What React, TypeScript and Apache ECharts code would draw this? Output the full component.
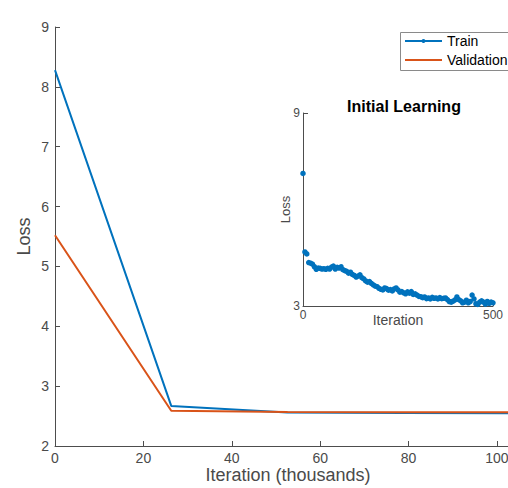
import React, { useEffect, useRef } from "react";
import * as echarts from "echarts";

const epochX = [0, 26.3, 52.6, 78.9, 105.2];
const trainLoss = [8.28, 2.67, 2.56, 2.55, 2.545];
const valLoss = [5.52, 2.59, 2.57, 2.565, 2.563];

const seriesNames = ["Train", "Validation"];

const insetIter = [
  0, 5, 10, 15, 20, 25, 30, 35, 40, 45, 50, 55, 60, 65, 70, 75, 80, 85, 90, 95,
  100, 105, 110, 115, 120, 125, 130, 135, 140, 145, 150, 155, 160, 165, 170, 175, 180, 185, 190, 195,
  200, 205, 210, 215, 220, 225, 230, 235, 240, 245, 250, 255, 260, 265, 270, 275, 280, 285, 290, 295,
  300, 305, 310, 315, 320, 325, 330, 335, 340, 345, 350, 355, 360, 365, 370, 375, 380, 385, 390, 395,
  400, 405, 410, 415, 420, 425, 430, 435, 440, 445, 450, 455, 460, 465, 470, 475, 480, 485, 490, 495, 500,
];
const insetLoss = [
  7.12, 4.68, 4.62, 4.35, 4.33, 4.3, 4.22, 4.14, 4.18, 4.17, 4.15, 4.16, 4.14, 4.17, 4.15, 4.21, 4.24, 4.15, 4.2, 4.18,
  4.22, 4.13, 4.1, 4.08, 4.02, 4.05, 3.98, 3.95, 3.9, 3.93, 3.97, 3.88, 3.84, 3.78, 3.74, 3.76, 3.7, 3.66, 3.62, 3.6,
  3.55, 3.52, 3.5, 3.56, 3.54, 3.49, 3.51, 3.47, 3.53, 3.56, 3.5, 3.43, 3.45, 3.41, 3.38, 3.44, 3.4, 3.45, 3.36, 3.38,
  3.34, 3.3, 3.29, 3.26, 3.28, 3.23, 3.25, 3.22, 3.27, 3.24, 3.25, 3.22, 3.26, 3.23, 3.24, 3.25, 3.2, 3.14, 3.12, 3.15,
  3.19, 3.28, 3.2, 3.16, 3.1, 3.12, 3.18, 3.1, 3.14, 3.34, 3.22, 3.07, 3.05, 3.12, 3.16, 3.12, 3.06, 3.14, 3.08, 3.12, 3.1,
];

const BLUE = "#0072BD";
const ORANGE = "#D95319";
const AXIS = "#4d4d4d";
const TEXT = "#4a4a4a";
const FONT = "'Liberation Sans', Arial, Helvetica, sans-serif";

export default function App() {
  const ref = useRef<HTMLDivElement>(null);
  useEffect(() => {
    if (!ref.current) return;
    const chart = echarts.init(ref.current, null, { renderer: "svg" });
    const axisCommon = {
      axisLine: { show: true, lineStyle: { color: AXIS, width: 1 } },
      axisTick: { show: true, inside: true, length: 5, lineStyle: { color: AXIS } },
      splitLine: { show: false },
      nameMoveOverlap: false,
    };
    const legendColors = [BLUE, ORANGE];
    const legendGraphics: any[] = [
      {
        type: "rect",
        shape: { x: 400.5, y: 32.5, width: 120, height: 38 },
        style: { fill: "#fff", stroke: "#8a8a8a", lineWidth: 1 },
        z: 100,
      },
    ];
    seriesNames.forEach((name, i) => {
      const y = 41 + i * 19;
      legendGraphics.push({
        type: "line",
        shape: { x1: 405, y1: y, x2: 442, y2: y },
        style: { stroke: legendColors[i], lineWidth: 2 },
        z: 101,
      });
      if (i === 0) {
        legendGraphics.push({
          type: "circle",
          shape: { cx: 423.5, cy: y, r: 2 },
          style: { fill: BLUE },
          z: 102,
        });
      }
      legendGraphics.push({
        type: "text",
        x: 447,
        y,
        style: {
          text: name,
          fontSize: 14,
          fontFamily: FONT,
          fill: "#000",
          verticalAlign: "middle",
        },
        z: 101,
      });
    });
    chart.setOption({
      animation: false,
      backgroundColor: "#ffffff",
      textStyle: { fontFamily: FONT },
      title: {
        text: "Initial Learning",
        left: 399,
        top: 93,
        textAlign: "center",
        textStyle: { fontSize: 16, fontWeight: "bold", color: "#000", fontFamily: FONT },
      },
      graphic: legendGraphics,
      grid: [
        { left: 55, top: 27, right: 0, height: 419, containLabel: false, outerBoundsMode: "none" },
        { left: 303, top: 113, width: 190, height: 193, containLabel: false, outerBoundsMode: "none" },
      ],
      xAxis: [
        {
          ...axisCommon,
          gridIndex: 0,
          type: "value",
          min: 0,
          max: 102.5,
          interval: 20,
          name: "Iteration (thousands)",
          nameLocation: "middle",
          nameGap: 20,
          nameTextStyle: { color: TEXT, fontSize: 18, fontFamily: FONT, padding: [0, 0, 0, 13] },
          axisLabel: { color: TEXT, fontSize: 14, fontFamily: FONT, margin: 5, showMaxLabel: false },
        },
        {
          ...axisCommon,
          gridIndex: 1,
          type: "value",
          min: 0,
          max: 500,
          interval: 500,
          name: "Iteration",
          nameLocation: "middle",
          nameGap: 7,
          nameTextStyle: { color: TEXT, fontSize: 14, fontFamily: FONT },
          axisLabel: { color: TEXT, fontSize: 12, fontFamily: FONT, margin: 3 },
        },
      ],
      yAxis: [
        {
          ...axisCommon,
          gridIndex: 0,
          type: "value",
          min: 2,
          max: 9,
          interval: 1,
          name: "Loss",
          nameLocation: "middle",
          nameGap: 22,
          nameTextStyle: { color: TEXT, fontSize: 18, fontFamily: FONT },
          axisLabel: { color: TEXT, fontSize: 14, fontFamily: FONT, margin: 6 },
        },
        {
          ...axisCommon,
          gridIndex: 1,
          type: "value",
          min: 3,
          max: 9,
          interval: 6,
          name: "Loss",
          nameLocation: "middle",
          nameGap: 11,
          nameTextStyle: { color: TEXT, fontSize: 13, fontFamily: FONT },
          axisLabel: { color: TEXT, fontSize: 12, fontFamily: FONT, margin: 3 },
        },
      ],
      series: [
        {
          name: seriesNames[0],
          type: "line",
          xAxisIndex: 0,
          yAxisIndex: 0,
          data: epochX.map((x, i) => [x, trainLoss[i]]),
          showSymbol: false,
          symbol: "none",
          lineStyle: { color: BLUE, width: 2 },
          itemStyle: { color: BLUE },
        },
        {
          name: seriesNames[1],
          type: "line",
          xAxisIndex: 0,
          yAxisIndex: 0,
          data: epochX.map((x, i) => [x, valLoss[i]]),
          symbol: "none",
          lineStyle: { color: ORANGE, width: 2 },
          itemStyle: { color: ORANGE },
        },
        {
          name: "Initial",
          type: "scatter",
          xAxisIndex: 1,
          yAxisIndex: 1,
          data: insetIter.map((x, i) => [x, insetLoss[i]]),
          symbol: "circle",
          symbolSize: 5.5,
          itemStyle: { color: BLUE, opacity: 1 },
        },
      ],
    });
    return () => chart.dispose();
  }, []);
  return (
    <div
      ref={ref}
      style={{ position: "absolute", left: 0, top: 0, width: 508, height: 488 }}
    />
  );
}
